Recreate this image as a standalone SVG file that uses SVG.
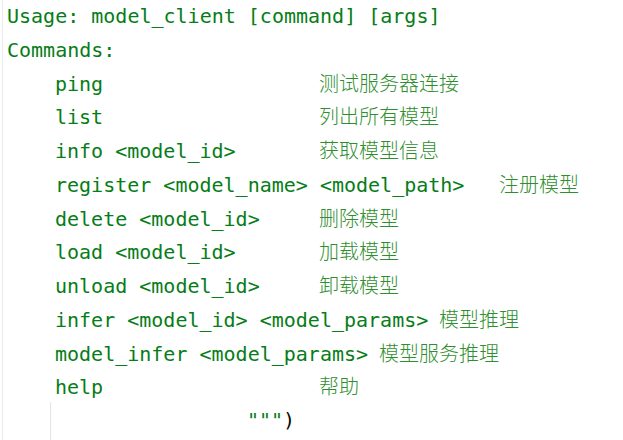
<svg xmlns="http://www.w3.org/2000/svg" width="623" height="440" viewBox="0 0 623 440">
<style>
.c{font-family:"DejaVu Sans Mono","Liberation Mono",monospace;font-size:20px;fill:#067d17;white-space:pre}
.z{font-family:"Noto Sans CJK SC",sans-serif;font-size:20px;fill:#2f8f2f;font-weight:300}
.k{font-family:"DejaVu Sans Mono","Liberation Mono",monospace;font-size:20px;fill:#080808}
</style>
<rect width="623" height="440" fill="#ffffff"/>
<line x1="2.5" y1="0" x2="2.5" y2="440" stroke="#ebebeb" stroke-width="1"/>
<line x1="50.5" y1="402" x2="50.5" y2="440" stroke="#e4e4e4" stroke-width="1"/>
<g id="code">
<text class="c" x="7" y="23">Usage: model_client [command] [args]</text>
<text class="c" x="7" y="57">Commands:</text>
<text class="c" x="55" y="90.5">ping</text><text class="z" x="319" y="90.5">测试服务器连接</text>
<text class="c" x="55" y="124">list</text><text class="z" x="319" y="124">列出所有模型</text>
<text class="c" x="55" y="158">info &lt;model_id&gt;</text><text class="z" x="319" y="158">获取模型信息</text>
<text class="c" x="55" y="192">register &lt;model_name&gt; &lt;model_path&gt;</text><text class="z" x="499" y="192">注册模型</text>
<text class="c" x="55" y="225.5">delete &lt;model_id&gt;</text><text class="z" x="319" y="225.5">删除模型</text>
<text class="c" x="55" y="259">load &lt;model_id&gt;</text><text class="z" x="319" y="259">加载模型</text>
<text class="c" x="55" y="293">unload &lt;model_id&gt;</text><text class="z" x="319" y="293">卸载模型</text>
<text class="c" x="55" y="327">infer &lt;model_id&gt; &lt;model_params&gt;</text><text class="z" x="439" y="327">模型推理</text>
<text class="c" x="55" y="360.5">model_infer &lt;model_params&gt;</text><text class="z" x="379" y="360.5">模型服务推理</text>
<text class="c" x="55" y="394">help</text><text class="z" x="319" y="394">帮助</text>
<text class="c" x="247" y="427">"""</text><text class="k" x="283" y="427">)</text>
</g>
</svg>
